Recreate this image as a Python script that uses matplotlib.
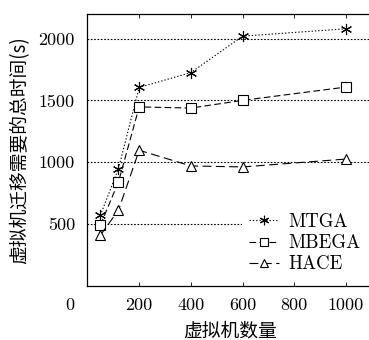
import matplotlib
matplotlib.use('Agg')
import matplotlib.pyplot as plt

plt.rcParams['axes.formatter.use_mathtext'] = True
plt.rcParams['mathtext.fontset'] = 'cm'

# ---- data ----
vms = [50, 120, 200, 400, 600, 1000]
mtga = [570, 948, 1605, 1725, 2020, 2080]
mbega = [490, 840, 1447, 1438, 1500, 1608]
hace = [408, 611, 1096, 969, 961, 1025]
xticks = [200, 400, 600, 800, 1000]
yticks = [500, 1000, 1500, 2000]

num_font = 'cmr10'
cjk_font = ['Noto Sans CJK SC', 'DejaVu Sans']

fig = plt.figure(figsize=(3.69, 3.40), dpi=100)
ax = fig.add_axes([0.237, 0.160, 0.771, 0.799])

ax.plot(vms, mtga, color='black', lw=0.8, linestyle=(0, (1.2, 1.8)),
        marker=(6, 2, 0), markersize=8, markeredgewidth=0.8, label='MTGA')
ax.plot(vms, mbega, color='black', lw=0.8, linestyle=(0, (6, 3)),
        marker='s', markersize=7.5, markerfacecolor='white',
        markeredgewidth=0.8, label='MBEGA')
ax.plot(vms, hace, color='black', lw=0.8, linestyle=(0, (8, 4)),
        marker='^', markersize=7.5, markerfacecolor='white',
        markeredgewidth=0.8, label='HACE')

ax.set_xlim(0, 1100)
ax.set_ylim(0, 2200)
ax.set_xticks(xticks)
ax.set_yticks(yticks)
ax.set_xticklabels([str(t) for t in xticks], fontfamily=num_font, fontsize=13)
ax.set_yticklabels([str(t) for t in yticks], fontfamily=num_font, fontsize=13)
ax.tick_params(direction='in', top=True, right=True, length=3, width=0.6)
ax.tick_params(axis='x', pad=9)
ax.tick_params(axis='y', pad=9, length=0)
for s in ax.spines.values():
    s.set_linewidth(0.9)

ax.yaxis.grid(True, linestyle=(0, (1.5, 1.5)), color='black', lw=0.8)
ax.set_axisbelow(True)

fig.text(70 / 369, 1 - 305 / 340, '0', ha='center', va='center',
         fontfamily=num_font, fontsize=13)

ax.set_xlabel('虚拟机数量', family=cjk_font, fontsize=13.5, labelpad=5)
ax.set_ylabel('虚拟机迁移需要的总时间(s)', family=cjk_font, fontsize=13.5,
              labelpad=6)

leg = ax.legend(loc='lower right', bbox_to_anchor=(0.988, 0.018), frameon=True,
                fancybox=False, edgecolor='none', facecolor='white',
                framealpha=1, handlelength=1.6, handletextpad=0.5,
                borderaxespad=0, borderpad=0.4, labelspacing=0.17,
                markerscale=0.85,
                prop={'family': num_font, 'size': 13.5})

fig.savefig('out.png', dpi=100, facecolor='white')
